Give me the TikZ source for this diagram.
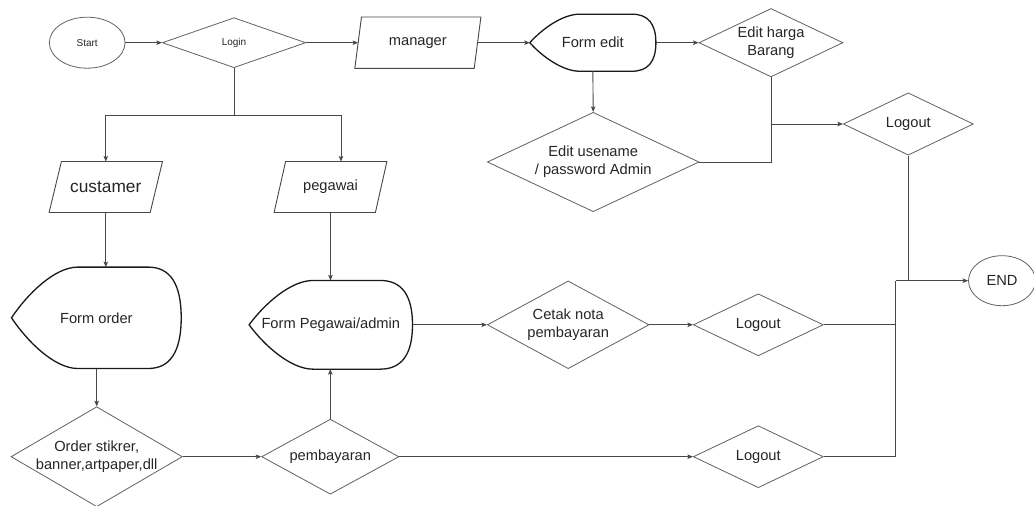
\documentclass[tikz,border=0pt]{standalone}
\usepackage{fontspec}
\setmainfont{Liberation Sans}
\usetikzlibrary{shapes.geometric,arrows.meta,calc}
\newcommand\fmain{\fontsize{14.67}{17.6}\selectfont}
\newcommand\fbig{\fontsize{17.3}{20}\selectfont}
\newcommand\fsmall{\fontsize{10}{12}\selectfont}
% display shape outline drawn round a rectangle node: #1 name, #2 left width, #3 right width
\newcommand\dispshape[3]{%
  \draw[displine] (#1.west)
    .. controls ($(#1.west)!0.47!(#1.north west)+(0.24*#2pt,0)$) and ([xshift=0.65*#2pt]#1.north west)
    .. ([xshift=#2pt]#1.north west) -- ([xshift=-#3pt]#1.north east)
    .. controls ([xshift=-0.333*#3pt]#1.north east) and ($(#1.north east)!0.333!(#1.east)$)
    .. (#1.east)
    .. controls ($(#1.south east)!0.333!(#1.east)$) and ([xshift=-0.333*#3pt]#1.south east)
    .. ([xshift=-#3pt]#1.south east) -- ([xshift=#2pt]#1.south west)
    .. controls ([xshift=0.65*#2pt]#1.south west) and ($(#1.west)!0.47!(#1.south west)+(0.24*#2pt,0)$)
    .. cycle;}
% parallelogram outline round a rectangle node: #1 name, #2 slant
\newcommand\parashape[2]{%
  \draw[paraline] ([xshift=#2pt]#1.north west) -- (#1.north east)
    -- ([xshift=-#2pt]#1.south east) -- (#1.south west) -- cycle;}
\begin{document}
\begin{tikzpicture}[x=1pt,y=-1pt,
  txt/.style={text=black!85,font=\fmain,align=center},
  box/.style={rectangle,inner sep=0pt,txt},
  dia/.style={diamond,draw=black!62,line width=0.8pt,inner sep=0pt},
  ell/.style={ellipse,draw=black!62,line width=0.8pt,inner sep=0pt,txt},
  lbl/.style={txt,inner sep=0pt},
  displine/.style={draw=black!90,line width=1.3pt,line join=miter},
  paraline/.style={draw=black!72,line width=0.9pt,line join=miter},
  flow/.style={draw=black!72,line width=0.9pt},
  arr/.style={flow,-{Stealth[length=5.5pt,width=4.5pt,inset=1.2pt]}}]
\useasboundingbox[fill=white] (0,0) rectangle (1034,506);

% top row
\node[ell,minimum width=75.7,minimum height=51,font=\fsmall] (start) at (87.2,42.7) {Start};
\node[dia,minimum width=143.4,minimum height=50,label={[lbl,font=\fsmall]center:Login}] (login) at (234,42.7) {};
\node[box,minimum width=125.7,minimum height=51] (mgr) at (417.85,42.7) {manager};
\parashape{mgr}{6.7}
\node[box,minimum width=125.7,minimum height=56.7] (fe) at (592.85,42.7) {Form edit};
\dispshape{fe}{50}{24}
\node[dia,minimum width=144,minimum height=68.4,label={[lbl]center:{Edit harga\\Barang}}] (eh) at (771,42.7) {};
\node[dia,minimum width=211.7,minimum height=99.4,label={[lbl]center:{Edit usename\\/ password Admin}}] (eu) at (593.2,162) {};
\node[dia,minimum width=130,minimum height=62.3,label={[lbl]center:Logout}] (lo3) at (908.3,124) {};

% second row
\node[box,minimum width=113,minimum height=50.6,font=\fbig] (cust) at (105.8,187) {custamer};
\parashape{cust}{12.3}
\node[box,minimum width=112.4,minimum height=50.6] (peg) at (330.5,187) {pegawai};
\parashape{peg}{11.5}

% forms
\node[box,minimum width=169.3,minimum height=101] (fo) at (96.35,317.8) {Form order};
\dispshape{fo}{66.3}{33}
\node[box,minimum width=163,minimum height=88.3] (fp) at (330.8,324.8) {Form Pegawai/admin};
\dispshape{fp}{64}{32.3}
\node[dia,minimum width=161.7,minimum height=87.7,label={[lbl]center:{Cetak nota\\pembayaran}}] (cetak) at (568.2,324.8) {};
\node[dia,minimum width=130,minimum height=62,label={[lbl]center:Logout}] (lo1) at (758.3,324.8) {};
\node[ell,minimum width=67,minimum height=50] (end) at (1002,280.7) {END};

% bottom row
\node[dia,minimum width=171.3,minimum height=100,label={[lbl]center:{Order stikrer,\\banner,artpaper,dll}}] (order) at (96.7,456.7) {};
\node[dia,minimum width=137.3,minimum height=75,label={[lbl]center:pembayaran}] (pemb) at (330.3,456.7) {};
\node[dia,minimum width=130,minimum height=62,label={[lbl]center:Logout}] (lo2) at (758.3,456.7) {};

% connectors
\coordinate (br) at (234,115);
\coordinate (jx) at (895.7,280.7);
\draw[arr] (start.east) -- (login.west);
\draw[arr] (login.east) -- ([xshift=3.35pt]mgr.west);
\draw[arr] ([xshift=-3.35pt]mgr.east) -- (fe.west);
\draw[arr] (fe.east) -- (eh.west);
\draw[arr] (fe.south) -- (eu.north);
\draw[flow] (eu.east) -| (eh.south);
\draw[arr] (eh.south |- lo3.west) -- (lo3.west);
\draw[flow] (login.south) -- (br);
\draw[arr] (br) -| (cust.north);
\draw[arr] (br) -| ([xshift=10.5pt]peg.north);
\draw[arr] (cust.south) -- (cust.south |- fo.north);
\draw[arr] (peg.south) -- (peg.south |- fp.north);
\draw[arr] (order.north |- fo.south) -- (order.north);
\draw[arr] (order.east) -- (pemb.west);
\draw[arr] (pemb.north) -- (pemb.north |- fp.south);
\draw[arr] (fp.east) -- (cetak.west);
\draw[arr] (cetak.east) -- (lo1.west);
\draw[arr] (pemb.east) -- (lo2.west);
\draw[flow] (lo2.east) -| (jx);
\draw[flow] (lo1.east) -- (lo1.east -| jx);
\draw[flow] (lo3.south) -- (lo3.south |- jx);
\draw[arr] (jx) -- (end.west);
\end{tikzpicture}
\end{document}
